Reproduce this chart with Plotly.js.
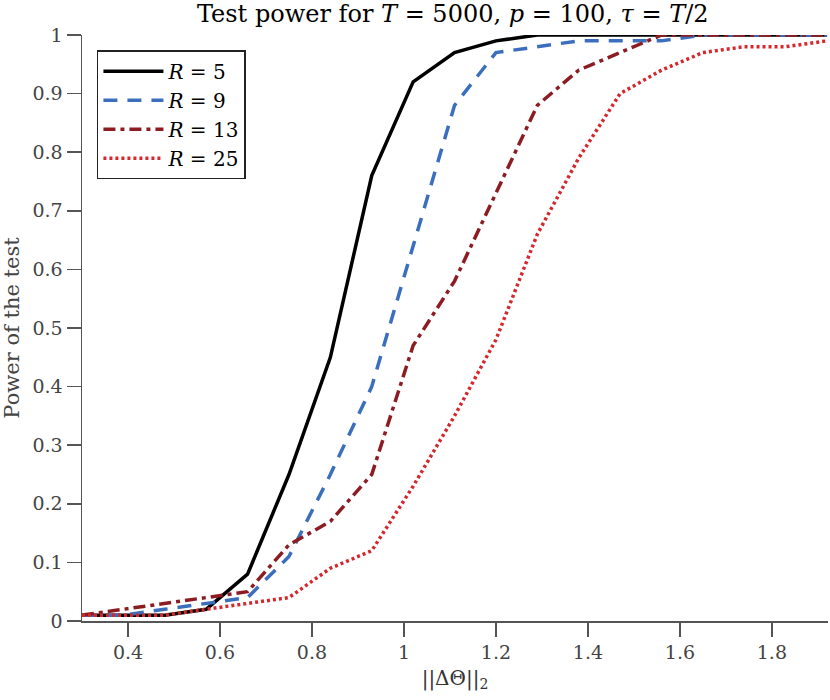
<!DOCTYPE html>
<html>
<head>
<meta charset="utf-8">
<script src="https://cdn.plot.ly/plotly-3.0.1.min.js"></script>
<style>
  html, body { margin: 0; padding: 0; background: #fff; }
  #placeholder { width: 830px; height: 700px; }
</style>
</head>
<body>
<div id="placeholder"></div>
<script>
( function() {
    'use strict';

    // ||dTheta||_2 values (step 0.09)
    var deltaNorm = [ 0.3, 0.39, 0.48, 0.57, 0.66, 0.75, 0.84, 0.93, 1.02, 1.11,
                      1.2, 1.29, 1.38, 1.47, 1.56, 1.65, 1.74, 1.83, 1.92 ];

    var powerR5  = [ 0.01, 0.01, 0.01, 0.02, 0.08, 0.25, 0.45, 0.76, 0.92, 0.97,
                     0.99, 1, 1, 1, 1, 1, 1, 1, 1 ];
    var powerR9  = [ 0.01, 0.01, 0.02, 0.03, 0.04, 0.11, 0.25, 0.40, 0.64, 0.88,
                     0.97, 0.98, 0.99, 0.99, 0.99, 1, 1, 1, 1 ];
    var powerR13 = [ 0.01, 0.02, 0.03, 0.04, 0.05, 0.13, 0.17, 0.25, 0.47, 0.58,
                     0.73, 0.88, 0.94, 0.97, 1, 1, 1, 1, 1 ];
    var powerR25 = [ 0.01, 0.01, 0.01, 0.02, 0.03, 0.04, 0.09, 0.12, 0.23, 0.35,
                     0.48, 0.66, 0.79, 0.90, 0.94, 0.97, 0.98, 0.98, 0.99 ];

    var seriesNames = [ '<i>R</i> = 5', '<i>R</i> = 9', '<i>R</i> = 13', '<i>R</i> = 25' ];

    var xTicks = [ 0.4, 0.6, 0.8, 1, 1.2, 1.4, 1.6, 1.8 ];
    var xTickText = [ '0.4', '0.6', '0.8', '1', '1.2', '1.4', '1.6', '1.8' ];

    var serif = '"DejaVu Serif", serif';

    var mkLine = ( y, name, color, dash ) => {
        return {
            x: deltaNorm,
            y: y,
            name: name,
            type: 'scatter',
            mode: 'lines',
            line: { color: color, width: 3.5, dash: dash }
        };
    };

    var data = [
        mkLine( powerR5,  seriesNames[0], '#000000', 'solid' ),
        mkLine( powerR9,  seriesNames[1], '#3b6fbe', '14px,10px' ),
        mkLine( powerR13, seriesNames[2], '#8c1c22', '12px,5px,4px,5px' ),
        mkLine( powerR25, seriesNames[3], '#d4282d', '3px,3px' )
    ];

    var layout = {
        width: 830,
        height: 700,
        margin: { l: 82, r: 2, t: 35, b: 79 },
        paper_bgcolor: '#fff',
        plot_bgcolor: '#fff',
        font: { family: serif, size: 20, color: '#333' },
        title: {
            text: 'Test power for <i>T</i> = 5000, <i>p</i> = 100, <i>τ</i> = <i>T</i>/2',
            font: { family: serif, size: 24, color: '#000' },
            x: 0.5455, xanchor: 'center',
            y: 0.992, yanchor: 'top'
        },
        xaxis: {
            range: [ 0.3, 1.922 ],
            tickvals: xTicks,
            ticktext: xTickText,
            ticks: 'outside', ticklen: 14, tickwidth: 1.5, tickcolor: '#555',
            showline: true, linecolor: '#555', linewidth: 1.5,
            showgrid: false, zeroline: false,
            tickfont: { family: serif, size: 19, color: '#444' },
            title: { text: '||ΔΘ||<sub>2</sub>', font: { family: serif, size: 20, color: '#333' }, standoff: 8 }
        },
        yaxis: {
            range: [ 0, 1 ],
            dtick: 0.1,
            ticks: 'outside', ticklen: 14, tickwidth: 1.5, tickcolor: '#555',
            showline: true, linecolor: '#555', linewidth: 1.5,
            showgrid: false, zeroline: false,
            tickfont: { family: serif, size: 19, color: '#444' },
            title: { text: 'Power of the test', font: { family: serif, size: 21, color: '#444' }, standoff: 8 }
        },
        showlegend: true,
        legend: {
            x: 0.02, y: 0.974, xanchor: 'left', yanchor: 'top',
            bgcolor: '#fff', bordercolor: '#222', borderwidth: 1.5,
            font: { family: serif, size: 20, color: '#000' },
            itemwidth: 60
        }
    };

    Plotly.newPlot( 'placeholder', data, layout, { staticPlot: true } );
} )();
</script>
</body>
</html>
